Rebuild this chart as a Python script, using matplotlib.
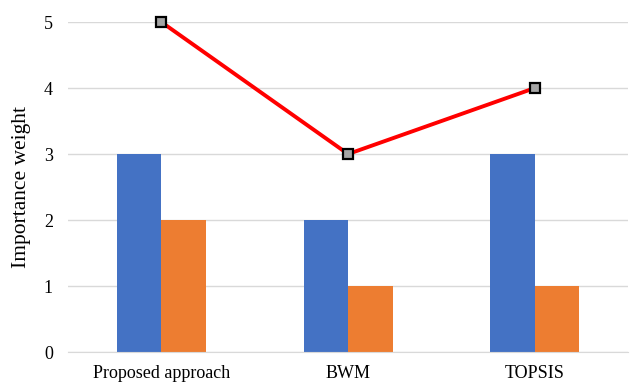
import numpy as np
import matplotlib.pyplot as plt

plt.rcParams['font.family'] = ['Liberation Serif', 'DejaVu Serif']

methods = ['Proposed approach', 'BWM', 'TOPSIS']
series_a = [3, 2, 3]
series_b = [2, 1, 1]
line_vals = [5, 3, 4]

fig = plt.figure(figsize=(6.3, 3.85), dpi=100)
ax = fig.add_axes([0.108, 0.0857, 0.889, 0.857])

x = np.arange(len(methods))
w = 0.238
ax.bar(x - w / 2, series_a, width=w, color='#4472C4', zorder=2)
ax.bar(x + w / 2, series_b, width=w, color='#ED7D31', zorder=2)
ax.plot(x, line_vals, color='#FF0000', linewidth=2.8, marker='s', markersize=7.5,
        markerfacecolor='#A5A5A5', markeredgecolor='black', markeredgewidth=1.6,
        zorder=3, clip_on=False)

ax.set_xlim(-0.5, 2.5)
ax.set_ylim(0, 5)
ax.set_yticks(range(6))
ax.set_xticks(x)
ax.set_xticklabels(methods, fontsize=13)
ax.tick_params(axis='y', labelsize=13, length=0, pad=11)
ax.tick_params(axis='x', length=0, pad=9)
ax.grid(axis='y', color='#D9D9D9', linewidth=1, zorder=0)
for s in ['top', 'right', 'left']:
    ax.spines[s].set_visible(False)
ax.spines['bottom'].set_color('#D9D9D9')
ax.set_ylabel('Importance weight', fontsize=15.5, labelpad=9)

fig.savefig('out.png', dpi=100)
